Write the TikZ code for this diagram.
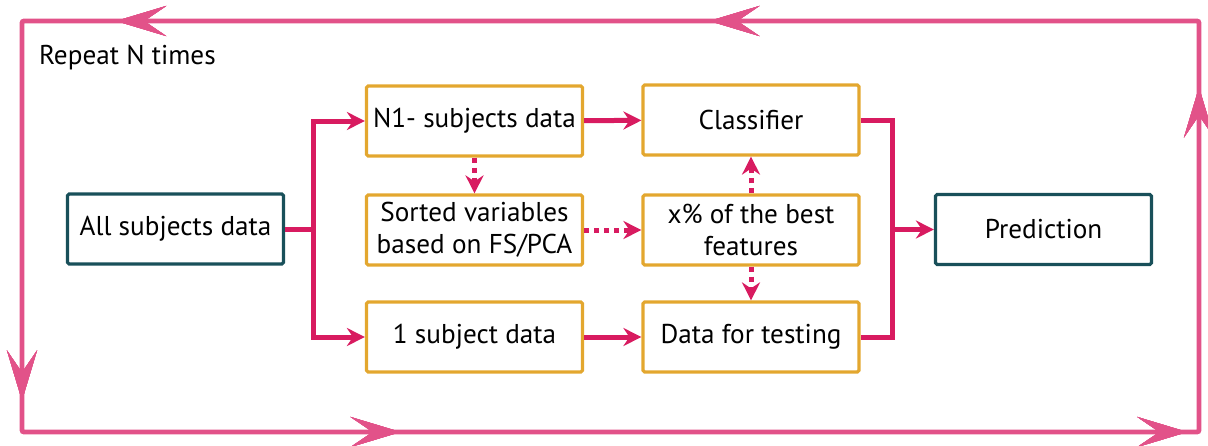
\documentclass[tikz,border=0pt]{standalone}
\usepackage{fontspec}
\setmainfont{PT Sans}
\usetikzlibrary{arrows.meta}
\usetikzlibrary{decorations.markings}
\usetikzlibrary{positioning}
\definecolor{mpink}{RGB}{216,27,96}
\definecolor{lpink}{RGB}{226,82,137}
\definecolor{mgold}{RGB}{227,167,47}
\definecolor{mteal}{RGB}{25,80,90}

\tikzset{
  box/.style={draw=mgold, line width=1.6pt, rounded corners=0.8pt,
    minimum width=108pt, minimum height=35pt, align=center, inner sep=0pt,
    font=\fontsize{13.6}{16}\selectfont},
  endbox/.style={box, draw=mteal},
  link/.style={draw=mpink, line width=2.5pt, line join=miter},
  flow/.style={link, -{Stealth[length=9pt,width=9pt,inset=3pt]}},
  dotflow/.style={flow, dash pattern=on 2.5pt off 2.5pt},
  loophead/.style={decoration={markings,
      mark=at position #1 with {\arrow[lpink, opacity=0.85]{Stealth[length=25pt,width=15pt,inset=11pt]}}},
    postaction=decorate},
}

\begin{document}
\begin{tikzpicture}[x=0.5pt, y=-0.5pt]
    \useasboundingbox (0,0) rectangle (1208,445);

    % outer loop
    \draw [lpink, line width=2.4pt, rounded corners=1pt,
      loophead=0.119, loophead=0.248, loophead=0.496,
      loophead=0.608, loophead=0.783, loophead=0.970]
      (22,21) -- (22,432) -- (1199,432) -- (1199,21) -- cycle;
    \node [anchor=west, font=\fontsize{13.6}{16}\selectfont] (rep) at (32,58) {Repeat N times};

    \node [endbox] (all) at (175.5,229) {All subjects data};
    \node [box] (n1) at (474.5,121) {N1- subjects data};
    \node [box] (sort) at (474.5,230) {Sorted variables\\based on FS/PCA};
    \node [box] (one) at (474.5,337) {1 subject data};
    \node [box] (cls) at (751,120) {Classifier};
    \node [box] (best) at (751,230) {x\% of the best\\features};
    \node [box] (test) at (751,337) {Data for testing};
    \node [endbox] (pred) at (1043.5,229.5) {Prediction};

    \coordinate (split) at (313,229);
    \coordinate (join) at (892,229.5);

    \draw [link] (all) -- (split);
    \draw [flow] (split) |- (n1);
    \draw [flow] (split) |- (one);
    \draw [flow] (n1) -- (cls);
    \draw [flow] (one) -- (test);
    \draw [link] (cls.east) -| (join) |- (test.east);
    \draw [flow] (join) -- (pred);

    \draw [dotflow] (n1) -- (sort);
    \draw [dotflow] (sort) -- (best);
    \draw [dotflow] (best) -- (cls);
    \draw [dotflow] (best) -- (test);
\end{tikzpicture}
\end{document}
